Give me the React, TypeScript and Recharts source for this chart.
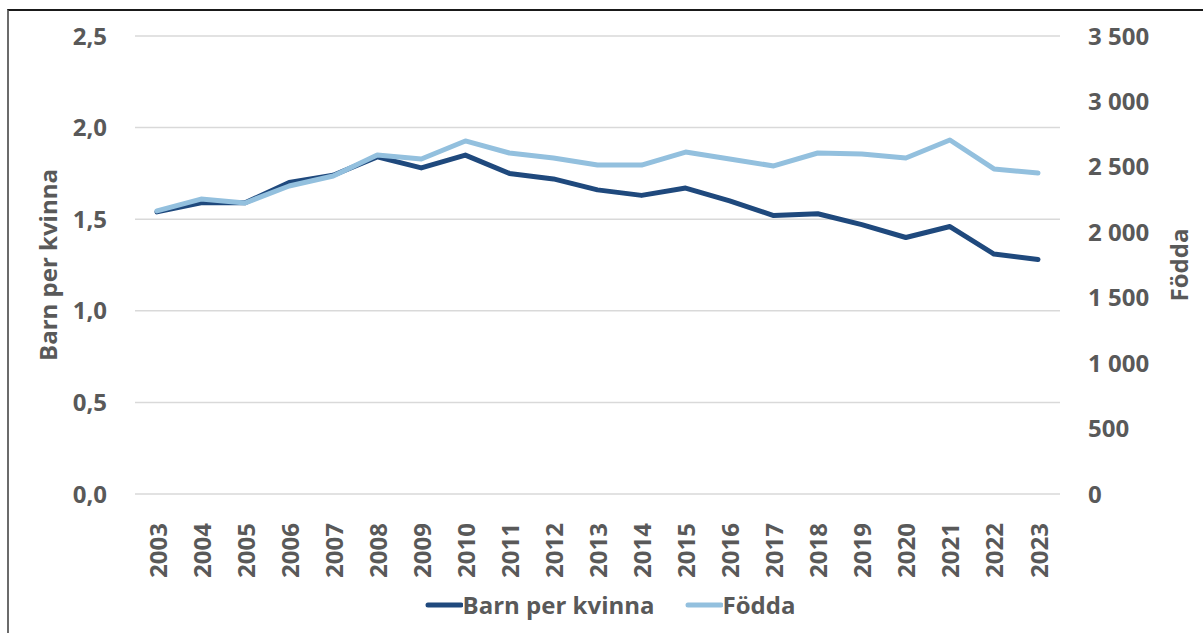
import React from 'react';
import { LineChart, Line, XAxis, YAxis, CartesianGrid, Legend } from 'recharts';

const years = ['2003', '2004', '2005', '2006', '2007', '2008', '2009', '2010', '2011', '2012', '2013', '2014', '2015', '2016', '2017', '2018', '2019', '2020', '2021', '2022', '2023'];
const barnPerKvinna = [1.54, 1.59, 1.59, 1.7, 1.74, 1.84, 1.78, 1.85, 1.75, 1.72, 1.66, 1.63, 1.67, 1.6, 1.52, 1.53, 1.47, 1.4, 1.46, 1.31, 1.28];
const fodda = [2163, 2254, 2224, 2354, 2430, 2591, 2560, 2698, 2606, 2568, 2514, 2514, 2613, 2560, 2507, 2606, 2598, 2568, 2705, 2484, 2453];
const leftTicks = [0, 0.5, 1, 1.5, 2, 2.5];
const rightTicks = [0, 500, 1000, 1500, 2000, 2500, 3000, 3500];

const data = years.map((year, i) => ({ year, barn: barnPerKvinna[i], fodda: fodda[i] }));

const DARK = '#1f497d';
const LIGHT = '#93c0de';
const TEXT = '#595959';
const FONT = '"Open Sans", sans-serif';
const FS = 24;

function YearTick({ x, y, payload }: { x?: number; y?: number; payload?: { value: string } }) {
  return (
    <text
      x={0}
      y={0}
      transform={`translate(${x},${(y ?? 0) + 21}) rotate(-90)`}
      textAnchor="end"
      dominantBaseline="central"
      fill={TEXT}
      fontSize={FS}
      fontWeight={700}
      fontFamily={FONT}
    >
      {payload?.value}
    </text>
  );
}

const fmtLeft = (v: number) => v.toFixed(1).replace('.', ',');
const fmtRight = (v: number) => String(v).replace(/\B(?=(\d{3})+(?!\d))/g, ' ');

function LegendContent() {
  const items = [
    { label: 'Barn per kvinna', color: DARK },
    { label: 'Födda', color: LIGHT },
  ];
  return (
    <div style={{ display: 'flex', justifyContent: 'center', gap: 30, marginLeft: 17, fontFamily: FONT }}>
      {items.map((it) => (
        <div key={it.label} style={{ display: 'flex', alignItems: 'center' }}>
          <svg width={38} height={10}>
            <line x1={3} y1={5} x2={36} y2={5} stroke={it.color} strokeWidth={5} strokeLinecap="round" />
          </svg>
          <span style={{ color: TEXT, fontSize: FS, fontWeight: 700, lineHeight: '36px' }}>{it.label}</span>
        </div>
      ))}
    </div>
  );
}

function axisTitle(text: string, dx: number) {
  return ({ viewBox }: any) => (
    <text
      x={0}
      y={0}
      transform={`translate(${viewBox.x + dx},${viewBox.y + viewBox.height / 2}) rotate(-90)`}
      textAnchor="middle"
      dominantBaseline="central"
      fill={TEXT}
      fontSize={FS}
      fontWeight={700}
      fontFamily={FONT}
    >
      {text}
    </text>
  );
}

const tickStyle = { fill: TEXT, fontSize: FS, fontWeight: 700, fontFamily: FONT };

export default function App() {
  return (
    <div style={{ position: 'fixed', left: 0, top: 0, width: 1203, height: 633, background: '#fff' }}>
      <div
        style={{
          position: 'absolute',
          left: 7,
          top: 9,
          width: 1300,
          height: 700,
          borderLeft: '2px solid #6b6b6b',
          borderTop: '2px solid #1a1a1a',
        }}
      />
      <div style={{ position: 'absolute', left: 0, top: 0 }}>
        <LineChart width={1203} height={633} data={data} margin={{ top: 36, right: 0, bottom: 8, left: 0 }}>
          <CartesianGrid vertical={false} stroke="#d9d9d9" strokeWidth={1.5} yAxisId="left" />
          <XAxis
            dataKey="year"
            tick={<YearTick />}
            tickLine={false}
            axisLine={false}
            interval={0}
            height={93}
            padding={{ left: 22, right: 22 }}
          />
          <YAxis
            yAxisId="left"
            orientation="left"
            domain={[0, 2.5]}
            ticks={leftTicks}
            tickFormatter={fmtLeft}
            width={135}
            tickLine={false}
            tickSize={0}
            tickMargin={28}
            axisLine={false}
            tick={tickStyle}
            label={axisTitle('Barn per kvinna', 47)}
          />
          <YAxis
            yAxisId="right"
            orientation="right"
            domain={[0, 3500]}
            ticks={rightTicks}
            tickFormatter={fmtRight}
            width={143}
            tickLine={false}
            tickSize={0}
            tickMargin={28}
            axisLine={false}
            tick={tickStyle}
            label={axisTitle('Födda', 118)}
          />
          <Legend verticalAlign="bottom" height={38} content={<LegendContent />} />
          <Line
            yAxisId="left"
            dataKey="barn"
            name="Barn per kvinna"
            stroke={DARK}
            strokeWidth={5}
            strokeLinecap="round"
            strokeLinejoin="round"
            dot={false}
            type="linear"
            isAnimationActive={false}
          />
          <Line
            yAxisId="right"
            dataKey="fodda"
            name="Födda"
            stroke={LIGHT}
            strokeWidth={5}
            strokeLinecap="round"
            strokeLinejoin="round"
            dot={false}
            type="linear"
            isAnimationActive={false}
          />
        </LineChart>
      </div>
    </div>
  );
}
